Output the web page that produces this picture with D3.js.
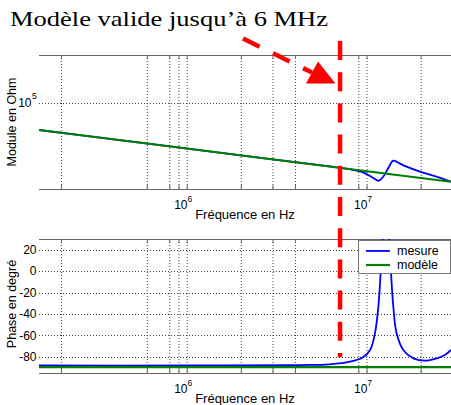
<!DOCTYPE html>
<html><head><meta charset="utf-8">
<script src="https://cdn.jsdelivr.net/npm/d3@7"></script>
<style>html,body{margin:0;padding:0;background:#fff;}svg{display:block;}</style>
</head><body>
<script>
// ---- data ----
const gridFreqs = [2e5, 6e5, 8e5, 9e5, 1e6, 2e6, 3e6, 4e6, 9e6, 1e7, 2e7];
const xTickFreqs = [1e6, 1e7];
const xTickExp = ["6", "7"];
const modTickVals = [1e5];
const modTickExp = ["5"];
const phaseTicks = [20, 0, -20, -40, -60, -80];

const freqModMeasure = [1.5e5, 4e5, 1e6, 3e6, 6.2e6, 8.05e6, 9.5e6, 1.09e7, 1.16e7, 1.23e7, 1.31e7, 1.40e7, 1.49e7, 1.66e7, 1.97e7, 2.33e7, 2.93e7];
const moduleMeasure = [63400, 53700, 46000, 38250, 33900, 32300, 30600, 27650, 26500, 28400, 32800, 37400, 36150, 33750, 30950, 28900, 26100];

const freqPhaseMeasure = [1.5e5, 1e6, 4.25e6, 6.2e6, 8.05e6, 9.5e6, 1.04e7, 1.107e7, 1.156e7, 1.19e7, 1.23e7, 1.276e7, 1.32e7, 1.36e7, 1.40e7, 1.46e7, 1.59e7, 1.81e7, 2.10e7, 2.44e7, 2.71e7, 2.93e7];
const phaseMeasure = [-88.0, -88.0, -87.6, -86.9, -84.5, -80.4, -73.5, -58, -33, -2, 40, 85, 40, -2, -33, -58, -73.5, -81.3, -83.5, -81.3, -78.2, -73.5];

const freqModel = [1.5e5, 1e6, 1e7, 2.93e7];
const moduleModel = [63400, 46050, 31240, 26100];
const phaseModel = [-89.5, -89.5, -89.5, -89.5];

const limitFreq = 7.08e6;
const titleText = "Modèle valide jusqu’à 6 MHz";
const legendLabels = ["mesure", "modèle"];

// ---- drawing ----
const W = 451, H = 405;
const svg = d3.select("body").append("svg").attr("width", W).attr("height", H);
const L = 39, R = 451;
const topY = [55, 189], botY = [239, 373];

const x = d3.scaleLog().domain([1.5e5, 2.93e7]).range([L, R]);
const yMod = d3.scaleLog().domain([2.3e4, 2.3e5]).range([topY[1], topY[0]]);
const yPh = d3.scaleLinear().domain([-95, 30]).range([botY[1], botY[0]]);

const FONT = "'Liberation Sans', Arial, sans-serif";
const blue = "#0000ff", green = "#008000", red = "#ff0000";

const defs = svg.append("defs");
defs.append("clipPath").attr("id", "clipTop").append("rect")
  .attr("x", L).attr("y", topY[0]).attr("width", R - L).attr("height", topY[1] - topY[0]);
defs.append("clipPath").attr("id", "clipBot").append("rect")
  .attr("x", L).attr("y", botY[0]).attr("width", R - L).attr("height", botY[1] - botY[0]);

function panel(yr, yScale, yTicks) {
  const g = svg.append("g");
  g.selectAll(".vg").data(gridFreqs).join("line")
    .attr("x1", d => x(d)).attr("x2", d => x(d))
    .attr("y1", yr[0]).attr("y2", yr[1])
    .attr("stroke", "#444").attr("stroke-width", 1).attr("stroke-dasharray", "1,2");
  g.selectAll(".hg").data(yTicks).join("line")
    .attr("x1", L).attr("x2", R)
    .attr("y1", d => Math.round(yScale(d)) + 0.5).attr("y2", d => Math.round(yScale(d)) + 0.5)
    .attr("stroke", "#444").attr("stroke-width", 1).attr("stroke-dasharray", "1,2");
  [yr[0], yr[1]].forEach(yy => {
    g.append("line").attr("x1", L).attr("x2", R).attr("y1", yy + 0.5).attr("y2", yy + 0.5)
      .attr("stroke", "#666").attr("stroke-width", 1);
  });
  g.selectAll(".tt").data(gridFreqs).join("line")
    .attr("x1", d => x(d)).attr("x2", d => x(d)).attr("y1", yr[0]).attr("y2", yr[0] + 4)
    .attr("stroke", "#666");
  g.selectAll(".tb").data(gridFreqs).join("line")
    .attr("x1", d => x(d)).attr("x2", d => x(d)).attr("y1", yr[1]).attr("y2", yr[1] - 4)
    .attr("stroke", "#666");
  const xl = g.selectAll(".xl").data(xTickFreqs).join("text")
    .attr("x", d => x(d) - 4).attr("y", yr[1] + 19.5)
    .attr("text-anchor", "middle").attr("font-family", FONT).attr("font-size", 12).attr("fill", "#000");
  xl.text("10");
  xl.append("tspan").attr("dy", -7).attr("font-size", 8.5).text((d, i) => xTickExp[i]);
  g.append("text").attr("x", 245).attr("y", yr[1] + 29.5)
    .attr("text-anchor", "middle").attr("font-family", FONT).attr("font-size", 13)
    .text("Fréquence en Hz");
  return g;
}

const gTop = panel(topY, yMod, modTickVals);
const gBot = panel(botY, yPh, phaseTicks);

gTop.selectAll(".ml").data(modTickVals).join("text")
  .attr("x", 31.5).attr("y", d => yMod(d) + 3.5)
  .attr("text-anchor", "end").attr("font-family", FONT).attr("font-size", 12).text("10");
gTop.selectAll(".me").data(modTickVals).join("text")
  .attr("x", 32).attr("y", d => yMod(d) - 4)
  .attr("font-family", FONT).attr("font-size", 8.5).text((d, i) => modTickExp[i]);

gBot.selectAll(".pl").data(phaseTicks).join("text")
  .attr("x", 36.5).attr("y", d => yPh(d) + 4.3)
  .attr("text-anchor", "end").attr("font-family", FONT).attr("font-size", 12)
  .text(d => d);

svg.append("text").attr("transform", `translate(16,${(topY[0] + topY[1]) / 2}) rotate(-90)`)
  .attr("text-anchor", "middle").attr("font-family", FONT).attr("font-size", 12.5)
  .text("Module en Ohm");
svg.append("text").attr("transform", `translate(16,${(botY[0] + botY[1]) / 2 - 2}) rotate(-90)`)
  .attr("text-anchor", "middle").attr("font-family", FONT).attr("font-size", 12.5)
  .text("Phase en degré");

const lineMod = d3.line().x(d => x(d[0])).y(d => yMod(d[1])).curve(d3.curveCatmullRom.alpha(0.5));
const linePh = d3.line().x(d => x(d[0])).y(d => yPh(d[1])).curve(d3.curveCatmullRom.alpha(0.5));

const modMeasPts = freqModMeasure.map((f, i) => [f, moduleMeasure[i]]);
const modModelPts = freqModel.map((f, i) => [f, moduleModel[i]]);
const phMeasPts = freqPhaseMeasure.map((f, i) => [f, phaseMeasure[i]]);
const phModelPts = freqModel.map((f, i) => [f, phaseModel[i]]);

const cTop = svg.append("g").attr("clip-path", "url(#clipTop)");
cTop.append("path").attr("d", lineMod(modMeasPts)).attr("fill", "none").attr("stroke", blue).attr("stroke-width", 1.8);
cTop.append("path").attr("d", lineMod(modModelPts)).attr("fill", "none").attr("stroke", green).attr("stroke-width", 2);

const cBot = svg.append("g").attr("clip-path", "url(#clipBot)");
cBot.append("path").attr("d", linePh(phMeasPts)).attr("fill", "none").attr("stroke", blue).attr("stroke-width", 1.8);
cBot.append("path").attr("d", linePh(phModelPts)).attr("fill", "none").attr("stroke", green).attr("stroke-width", 2.2);

const lg = svg.append("g");
lg.append("rect").attr("x", 358.5).attr("y", 240.5).attr("width", 92).attr("height", 33)
  .attr("fill", "#fff").attr("stroke", "#777").attr("stroke-width", 1);
[blue, green].forEach((c, i) => {
  const yy = 251 + i * 14;
  lg.append("line").attr("x1", 366).attr("x2", 390).attr("y1", yy).attr("y2", yy)
    .attr("stroke", c).attr("stroke-width", i ? 2.2 : 1.8);
  lg.append("text").attr("x", 397).attr("y", yy + 4.3).attr("font-family", FONT).attr("font-size", 12.5)
    .text(legendLabels[i]);
});

svg.append("text").attr("x", 10).attr("y", 26)
  .attr("font-family", "'Times New Roman', 'Liberation Serif', serif").attr("font-size", 21)
  .attr("textLength", 318).attr("lengthAdjust", "spacingAndGlyphs")
  .text(titleText);

const xlim = x(limitFreq);
svg.append("line").attr("x1", xlim).attr("x2", xlim).attr("y1", 41).attr("y2", 357.3)
  .attr("stroke", red).attr("stroke-width", 4.5).attr("stroke-dasharray", "19,12.2");

svg.append("line").attr("x1", 243).attr("y1", 38.5).attr("x2", 312).attr("y2", 72.5)
  .attr("stroke", red).attr("stroke-width", 4.5).attr("stroke-dasharray", "18.5,15");
svg.append("polygon").attr("points", "318,61.5 306,83.5 335.5,83.5").attr("fill", red);
</script>
</body></html>
